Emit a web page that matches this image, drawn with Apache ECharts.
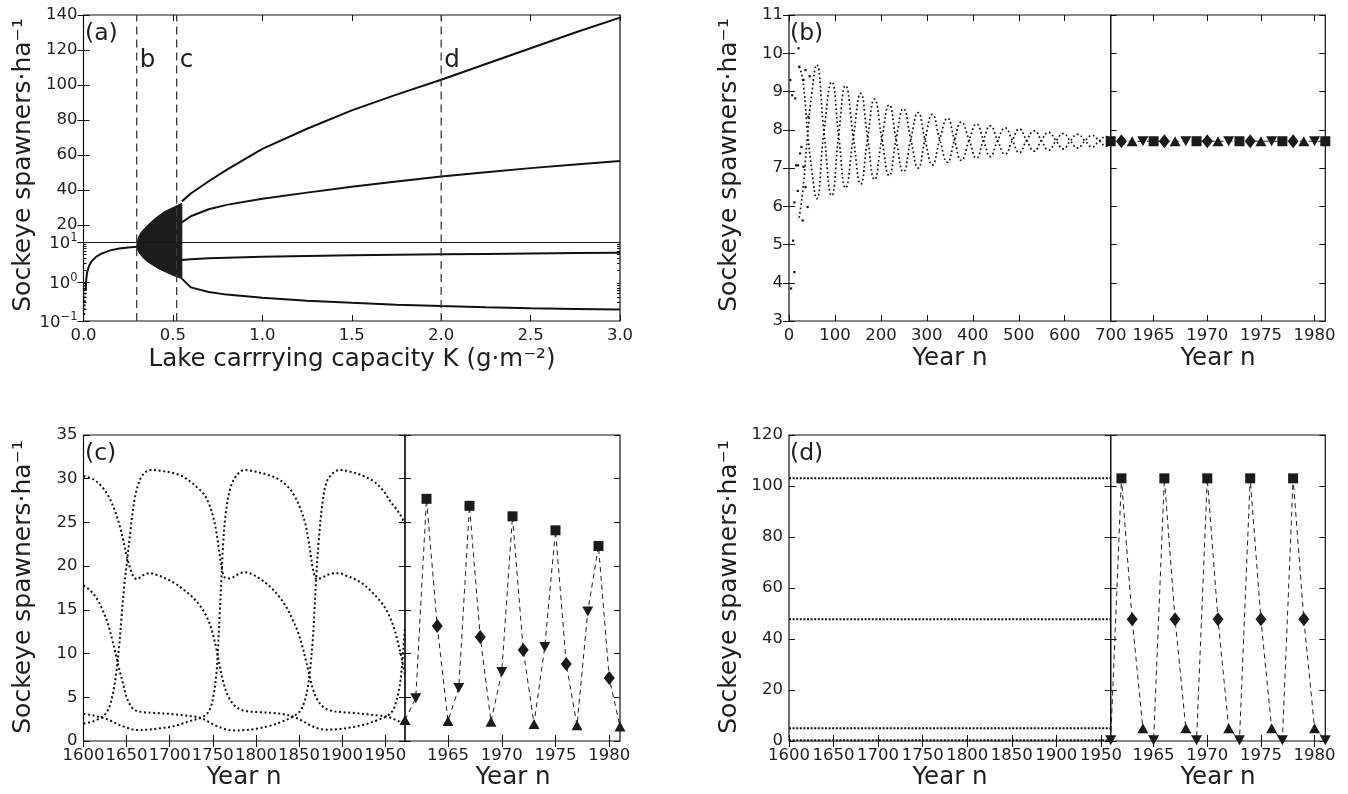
<!DOCTYPE html>
<html><head><meta charset="utf-8">
<script src="https://cdn.jsdelivr.net/npm/echarts@6.0.0/dist/echarts.min.js"></script>
<style>html,body{margin:0;padding:0;background:#fff;}#chart{width:1348px;height:794px;}</style>
</head><body><div id="chart"></div>
<script>
// ================= DATA =================
// ---- Panel (a): bifurcation diagram ----
const aXTicks = [0, 0.5, 1, 1.5, 2, 2.5, 3];
const aUpperTicks = [20, 40, 60, 80, 100, 120, 140];
const aLowerTicks = [0.1, 1, 10];
const aMinorTicks = [0.2,0.3,0.4,0.5,0.6,0.7,0.8,0.9,2,3,4,5,6,7,8,9];
const aDashK = [0.2975, 0.521, 2.0];
const aDashNames = ['b', 'c', 'd'];
const aDashLabelY = 113.7;
const aPreK = [0.012,0.015,0.02,0.03,0.045,0.07,0.1,0.15,0.2,0.25,0.2975];
const aPreS = [0.6,1.1,1.7,2.5,3.3,4.3,5.2,6.3,7.0,7.5,7.8];
const aEdgeK = [0.004,0.005,0.006,0.007,0.008,0.009,0.01,0.011];
const aEdgeS = [0.15,0.2,0.25,0.32,0.4,0.5,0.62,0.8];
const aBandK = [0.2975,0.30,0.31,0.32,0.34,0.36,0.39,0.42,0.45,0.48,0.51,0.54,0.55];
const aBandUpper = [7.8,10.5,13.5,15.5,18,20,22.8,25.3,27.5,29,30.5,31.8,32.5];
const aBandLower = [7.8,6.8,5.6,4.8,3.8,3.2,2.6,2.15,1.85,1.6,1.4,1.25,1.2];
const aBranchK = [0.55,0.6,0.7,0.8,1.0,1.25,1.5,1.75,2.0,2.25,2.5,2.75,3.0];
const aBranch1 = [33.5,38,45,51.5,63.5,75,85.5,94.5,103,112,121,130,138.5];
const aBranch2 = [21.5,25,29,31.5,35,38.5,41.8,44.8,47.7,50.2,52.5,54.6,56.6];
const aBranch3 = [3.6,3.75,3.95,4.1,4.35,4.55,4.72,4.87,5.0,5.12,5.25,5.38,5.5];
const aBranch4 = [1.2,0.72,0.55,0.47,0.39,0.33,0.29,0.26,0.24,0.225,0.212,0.203,0.195];

// ---- Panel (b) ----
const bLeftTicks = [0,100,200,300,400,500,600,700];
const bRightTicks = [1965,1970,1975,1980];
const bYTicks = [3,4,5,6,7,8,9,10,11];
const bExtYears = [60,93,123,156,186,218,249,281,312,345,375,408,438,470,501,534,565,597,628,660,691];
const bUpper = [9.7,9.25,9.15,8.95,8.8,8.65,8.55,8.45,8.4,8.3,8.2,8.15,8.1,8.05,8.02,7.97,7.93,7.9,7.88,7.85,7.82];
const bLower = [6.2,6.28,6.48,6.58,6.7,6.8,6.9,7.0,7.08,7.15,7.2,7.26,7.3,7.36,7.4,7.44,7.47,7.5,7.52,7.55,7.57];
const bCrossYears = [76,108,140,171,202,233,265,296,328,360,392,423,454,486,517,549,581,612,644,675];
const bCrossVals = [7.95,7.85,7.8,7.78,7.76,7.75,7.75,7.74,7.74,7.73,7.73,7.73,7.72,7.72,7.72,7.72,7.71,7.71,7.71,7.71];
const bStartP = [[22,5.7],[30,6.4],[40,7.8],[50,9.0]];
const bStartQ = [[22,9.65],[30,9.3],[40,8.0],[50,6.9]];
const bEndP = [700,7.78];
const bEndQ = [700,7.62];
const bEarlyYears = [4.5,11.7,9,11.7,19,15.3,19.8,13.5,20.7,22.5,31.5,36,45,27,31.5,36,42,40.5,29.7,24.3,7,3];
const bEarlyVals = [3.85,4.28,5.1,6.1,6.4,7.07,7.07,8.82,10.13,9.65,9.3,9.56,9.4,7.55,7.03,6.5,8.34,5.98,5.63,7.38,8.9,9.3];
const bRightYears = [1961,1962,1963,1964,1965,1966,1967,1968,1969,1970,1971,1972,1973,1974,1975,1976,1977,1978,1979,1980,1981];
const bRightVals = [7.7,7.7,7.7,7.7,7.7,7.7,7.7,7.7,7.7,7.7,7.7,7.7,7.7,7.7,7.7,7.7,7.7,7.7,7.7,7.7,7.7];
const bRightMarks = ['sq','di','tu','td','sq','di','tu','td','sq','di','tu','td','sq','di','tu','td','sq','di','tu','td','sq'];

// ---- Panel (c) ----
const cLeftTicks = [1600,1650,1700,1750,1800,1850,1900,1950];
const cYTicks = [0,5,10,15,20,25,30,35];
const cCurveA = [[1600,30.3],[1612,29.9],[1622,29.0],[1630,27.8],[1637,26.2],[1642,24.6],[1646,23.0],[1650,21.2],[1654,19.8],[1658,18.8],[1662,18.5],[1668,18.9],[1676,19.2],[1685,19.0],[1695,18.6],[1705,18.1],[1715,17.4],[1725,16.6],[1735,15.5],[1743,14.2],[1749,12.6],[1754,10.6],[1758,8.6],[1762,6.8],[1767,5.3],[1773,4.3],[1780,3.7],[1790,3.4],[1805,3.3],[1820,3.2],[1833,3.05],[1843,2.8],[1852,2.4],[1862,1.85],[1872,1.45],[1882,1.3],[1895,1.35],[1910,1.55],[1925,1.85],[1940,2.35],[1952,2.85],[1959,3.5],[1963,4.6],[1966,5.8],[1969,8.0],[1971,10.5],[1973,13.0]];
const cCurveB = [[1600,17.8],[1608,17.2],[1616,16.2],[1622,15.0],[1628,13.5],[1633,11.7],[1638,9.7],[1642,8.0],[1646,6.5],[1650,5.0],[1655,4.0],[1660,3.5],[1670,3.3],[1685,3.2],[1700,3.1],[1715,2.95],[1728,2.8],[1737,2.6],[1745,2.2],[1755,1.7],[1765,1.35],[1775,1.2],[1787,1.25],[1800,1.4],[1815,1.7],[1830,2.2],[1843,2.8],[1851,3.4],[1856,4.4],[1860,6.0],[1863,8.3],[1866,11.5],[1868,15.0],[1870,18.8],[1873,23.0],[1877,27.0],[1882,29.6],[1890,30.7],[1898,31.0],[1910,30.8],[1925,30.3],[1938,29.6],[1948,28.6],[1956,27.4],[1963,26.5],[1968,25.8],[1973,24.8]];
const cCurveC = [[1600,3.1],[1608,3.0],[1616,2.8],[1624,2.6],[1632,2.3],[1640,1.9],[1648,1.6],[1656,1.35],[1665,1.25],[1675,1.3],[1688,1.45],[1700,1.6],[1712,1.9],[1724,2.3],[1737,2.7],[1744,3.2],[1748,4.0],[1751,5.3],[1754,7.5],[1756,10.5],[1758,14.5],[1760,18.5],[1762,22.5],[1765,26.0],[1770,28.8],[1777,30.3],[1787,31.0],[1800,30.8],[1812,30.5],[1825,30.0],[1836,29.2],[1845,28.0],[1852,26.5],[1857,25.0],[1861,23.0],[1864,21.0],[1867,19.3],[1871,18.5],[1877,18.7],[1886,19.1],[1896,19.2],[1905,18.9],[1915,18.5],[1925,17.9],[1935,17.0],[1945,15.9],[1953,14.7],[1960,13.0],[1965,11.2],[1969,9.5],[1973,7.5]];
const cCurveD = [[1600,2.0],[1608,2.15],[1616,2.45],[1622,2.8],[1627,3.3],[1631,4.2],[1635,5.9],[1638,7.8],[1641,10.5],[1644,14.0],[1647,17.5],[1651,21.0],[1655,24.5],[1659,27.5],[1664,29.5],[1670,30.6],[1678,31.0],[1690,30.9],[1702,30.7],[1712,30.4],[1722,29.8],[1732,29.0],[1740,28.2],[1746,27.0],[1750,25.8],[1754,24.0],[1757,22.0],[1760,20.0],[1764,18.7],[1770,18.6],[1778,19.0],[1787,19.3],[1797,19.0],[1807,18.4],[1817,17.6],[1827,16.5],[1836,15.2],[1843,13.8],[1849,12.4],[1854,10.8],[1858,9.2],[1862,7.6],[1866,6.0],[1871,4.8],[1877,4.0],[1886,3.5],[1900,3.3],[1915,3.2],[1930,3.05],[1942,2.9],[1952,2.8],[1960,2.5],[1967,2.2],[1973,1.95]];
const cRightYears = [1961,1962,1963,1964,1965,1966,1967,1968,1969,1970,1971,1972,1973,1974,1975,1976,1977,1978,1979,1980,1981];
const cRightVals = [2.4,4.9,27.7,13.15,2.3,6.05,26.9,11.9,2.2,7.9,25.7,10.4,1.95,10.75,24.1,8.8,1.8,14.8,22.3,7.2,1.65];
const cRightMarks = ['tu','td','sq','di','tu','td','sq','di','tu','td','sq','di','tu','td','sq','di','tu','td','sq','di','tu'];

// ---- Panel (d) ----
const dLeftTicks = [1600,1650,1700,1750,1800,1850,1900,1950];
const dYTicks = [0,20,40,60,80,100,120];
const dLeftYears = [1600, 1961];
const dLevels = [103, 47.7, 5.0, 0.3];
const dRightYears = [1961,1962,1963,1964,1965,1966,1967,1968,1969,1970,1971,1972,1973,1974,1975,1976,1977,1978,1979,1980,1981];
const dRightVals = [0.3,103,47.7,5.0,0.3,103,47.7,5.0,0.3,103,47.7,5.0,0.3,103,47.7,5.0,0.3,103,47.7,5.0,0.3];
const dRightMarks = ['td','sq','di','tu','td','sq','di','tu','td','sq','di','tu','td','sq','di','tu','td','sq','di','tu','td'];

// ================= BUILD =================
const FONT = 'DejaVu Sans';
const INK = '#111';
const TXT = '#1e1e1e';
const TICKFS = 16.5;
const NAMEFS = 24.5;
const grids = [], xAxis = [], yAxis = [], series = [];
const PX = {}, PY = {};

function addGrid(name, l, t, w, h) {
  grids.push({left: l, top: t, width: w, height: h, show: true, borderColor: INK, borderWidth: 1.2,
    backgroundColor: 'rgba(0,0,0,0)', containLabel: false, outerBoundsMode: 'none'});
  return grids.length - 1;
}
const supRich = {
  b: {fontFamily: FONT, fontSize: TICKFS, color: TXT, lineHeight: 20, verticalAlign: 'bottom'},
  s: {fontFamily: FONT, fontSize: 11.5, color: TXT, lineHeight: 20, verticalAlign: 'top'}
};
function mkAxis(gi, pos, type, min, max, ticks, labels, fmt, len) {
  const a = {type: type, gridIndex: gi, position: pos, min: min, max: max, offset: 0,
    axisLine: {show: false}, splitLine: {show: false}, minorTick: {show: false}, splitArea: {show: false},
    axisTick: {show: ticks.length > 0, inside: true, length: len || 6, lineStyle: {color: INK, width: 1}, customValues: ticks},
    axisLabel: labels ? {show: true, customValues: labels, formatter: fmt || (v => String(v)), color: TXT,
      fontFamily: FONT, fontSize: TICKFS, margin: 6, rich: supRich, hideOverlap: false} : {show: false},
    axisPointer: {show: false}, silent: true};
  if (type === 'log') a.logBase = 10;
  return a;
}
function panel(name, gi, xc, yc) {
  xAxis.push(mkAxis(gi, 'bottom', xc.type || 'value', xc.min, xc.max, xc.bottomTicks, xc.labels, xc.fmt));
  PX[name] = xAxis.length - 1;
  xAxis.push(mkAxis(gi, 'top', xc.type || 'value', xc.min, xc.max, xc.topTicks, null));
  yAxis.push(mkAxis(gi, 'left', yc.type || 'value', yc.min, yc.max, yc.ticks, yc.labels, yc.fmt));
  PY[name] = yAxis.length - 1;
  yAxis.push(mkAxis(gi, 'right', yc.type || 'value', yc.min, yc.max, yc.ticks, null));
  if (yc.minor) {
    yAxis.push(mkAxis(gi, 'left', yc.type, yc.min, yc.max, yc.minor, null, null, 3));
    yAxis.push(mkAxis(gi, 'right', yc.type, yc.min, yc.max, yc.minor, null, null, 3));
  }
}
const logFmt = v => {
  const e = Math.round(Math.log10(v));
  return '{b|10}{s|' + (e < 0 ? '\u2212' : '') + Math.abs(e) + '}';
};

const gAU = addGrid('aU', 83.5, 15, 536.5, 227.5);
const gAL = addGrid('aL', 83.5, 242.5, 536.5, 78.5);
const gBL = addGrid('bL', 789, 15, 321.7, 306);
const gBR = addGrid('bR', 1110.7, 15, 214.6, 306);
const gCL = addGrid('cL', 83.5, 435, 321.5, 306);
const gCR = addGrid('cR', 405, 435, 215, 306);
const gDL = addGrid('dL', 789, 435, 321.7, 306);
const gDR = addGrid('dR', 1110.7, 435, 214.6, 306);

panel('aU', gAU, {min: 0, max: 3, bottomTicks: [], topTicks: aXTicks}, {min: 10, max: 140, ticks: aUpperTicks, labels: aUpperTicks});
panel('aL', gAL, {min: 0, max: 3, bottomTicks: aXTicks, topTicks: [], labels: aXTicks, fmt: v => v.toFixed(1)},
  {type: 'log', min: 0.1, max: 10, ticks: aLowerTicks, labels: aLowerTicks, fmt: logFmt, minor: aMinorTicks});
panel('bL', gBL, {min: 0, max: 700, bottomTicks: bLeftTicks, topTicks: bLeftTicks, labels: bLeftTicks}, {min: 3, max: 11, ticks: bYTicks, labels: bYTicks});
panel('bR', gBR, {min: 1961, max: 1981, bottomTicks: bRightTicks, topTicks: bRightTicks, labels: bRightTicks}, {min: 3, max: 11, ticks: bYTicks});
panel('cL', gCL, {min: 1600, max: 1973, bottomTicks: cLeftTicks, topTicks: cLeftTicks, labels: cLeftTicks}, {min: 0, max: 35, ticks: cYTicks, labels: cYTicks});
panel('cR', gCR, {min: 1961, max: 1981, bottomTicks: bRightTicks, topTicks: bRightTicks, labels: bRightTicks}, {min: 0, max: 35, ticks: cYTicks});
panel('dL', gDL, {min: 1600, max: 1961, bottomTicks: dLeftTicks, topTicks: dLeftTicks, labels: dLeftTicks}, {min: 0, max: 120, ticks: dYTicks, labels: dYTicks});
panel('dR', gDR, {min: 1961, max: 1981, bottomTicks: bRightTicks, topTicks: bRightTicks, labels: bRightTicks}, {min: 0, max: 120, ticks: dYTicks});

function addLine(p, data, style, extra) {
  series.push(Object.assign({type: 'line', xAxisIndex: PX[p], yAxisIndex: PY[p], data: data, symbol: 'none',
    silent: true, animation: false, clip: true, lineStyle: style, z: 3}, extra || {}));
}
function addDots(p, data, size) {
  series.push({type: 'scatter', xAxisIndex: PX[p], yAxisIndex: PY[p], data: data, symbol: 'rect',
    symbolSize: size, itemStyle: {color: INK, opacity: 1}, silent: true, animation: false, clip: true, z: 3});
}
const zip = (xs, ys) => xs.map((x, i) => [x, ys[i]]);
const solid = {color: INK, width: 2};
const dashV = {color: '#3a3a3a', width: 1.3, type: [8, 5]};
const dotted = {color: INK, width: 2, type: [2, 2.6], cap: 'butt'};

// ---- (a) ----
function band(p) {
  series.push({type: 'custom', xAxisIndex: PX[p], yAxisIndex: PY[p], clip: true, silent: true, animation: false, z: 2,
    data: [[aBandK[0], aBandUpper[0]]],
    renderItem: function (params, api) {
      const pts = [];
      for (let i = 0; i < aBandK.length; i++) pts.push(api.coord([aBandK[i], aBandUpper[i]]));
      for (let i = aBandK.length - 1; i >= 0; i--) pts.push(api.coord([aBandK[i], aBandLower[i]]));
      const cs = params.coordSys;
      return {type: 'group', clipPath: {type: 'rect', shape: {x: cs.x, y: cs.y, width: cs.width, height: cs.height}},
        children: [{type: 'polygon', shape: {points: pts}, style: {fill: '#1c1c1c', stroke: '#1c1c1c', lineWidth: 1}}]};
    }});
}
band('aU'); band('aL');
addLine('aU', zip(aBranchK, aBranch1), solid);
addLine('aU', zip(aBranchK, aBranch2), solid);
addLine('aL', zip(aBranchK, aBranch3), solid);
addLine('aL', zip(aBranchK, aBranch4), solid);
addLine('aL', zip(aPreK, aPreS), solid);
addDots('aL', zip(aEdgeK, aEdgeS), 2);
aDashK.forEach(k => {
  addLine('aU', [[k, 10], [k, 140]], dashV, {z: 4});
  addLine('aL', [[k, 0.1], [k, 10]], dashV, {z: 4});
});
series.push({type: 'scatter', xAxisIndex: PX.aU, yAxisIndex: PY.aU, symbolSize: 0, silent: true, animation: false,
  itemStyle: {opacity: 1},
  data: aDashK.map((k, i) => ({value: [k, aDashLabelY], name: aDashNames[i]})),
  label: {show: true, position: 'right', distance: 3, formatter: '{b}', fontFamily: FONT, fontSize: NAMEFS,
    color: TXT, opacity: 1, textBorderWidth: 0}});

// ---- (b) ----
const bP = bStartP.slice(), bQ = bStartQ.slice();
bExtYears.forEach((yr, i) => {
  bP.push([yr, i % 2 === 0 ? bUpper[i] : bLower[i]]);
  bQ.push([yr, i % 2 === 0 ? bLower[i] : bUpper[i]]);
  if (i < bCrossYears.length) { bP.push([bCrossYears[i], bCrossVals[i]]); bQ.push([bCrossYears[i], bCrossVals[i]]); }
});
bP.push(bEndP); bQ.push(bEndQ);
const dottedB = {color: INK, width: 1.7, type: [1.7, 2.6], cap: 'butt'};
addLine('bL', bP, dottedB, {smooth: 0.5});
addLine('bL', bQ, dottedB, {smooth: 0.5});
addDots('bL', zip(bEarlyYears, bEarlyVals), 2.2);

const MK = {
  sq: {symbol: 'rect', size: 10, rot: 0},
  di: {symbol: 'diamond', size: [11, 14], rot: 0},
  tu: {symbol: 'triangle', size: [11, 10], rot: 0},
  td: {symbol: 'triangle', size: [11, 10], rot: 180}
};
function markerPanel(p, years, vals, marks) {
  addLine(p, zip(years, vals), {color: '#222', width: 1, type: [5, 4]}, {z: 3});
  Object.keys(MK).forEach(k => {
    const d = [];
    years.forEach((y, i) => { if (marks[i] === k) d.push([y, vals[i]]); });
    series.push({type: 'scatter', xAxisIndex: PX[p], yAxisIndex: PY[p], data: d, symbol: MK[k].symbol,
      symbolSize: MK[k].size, symbolRotate: MK[k].rot, itemStyle: {color: '#1a1a1a', opacity: 1}, silent: true,
      animation: false, clip: true, z: 5});
  });
}
markerPanel('bR', bRightYears, bRightVals, bRightMarks);

// ---- (c) ----
[cCurveA, cCurveB, cCurveC, cCurveD].forEach(c => addLine('cL', c, dotted, {smooth: 0.35}));
markerPanel('cR', cRightYears, cRightVals, cRightMarks);

// ---- (d) ----
dLevels.forEach(v => addLine('dL', dLeftYears.map(y => [y, v]), {color: INK, width: 2, type: [2, 1.6], cap: 'butt'}));
markerPanel('dR', dRightYears, dRightVals, dRightMarks);

// ---- texts ----
function txt(x, y, s, size, align, rot) {
  return {type: 'text', x: x, y: y, rotation: rot || 0, silent: true, z: 10,
    style: {text: s, font: size + 'px "DejaVu Sans"', fill: TXT, align: align || 'center', textAlign: align || 'center',
      verticalAlign: 'middle', textVerticalAlign: 'middle'}};
}
const yName = 'Sockeye spawners\u00b7ha\u207b\u00b9';
const graphics = [
  txt(85, 34, '(a)', 23.5, 'left'), txt(790, 34, '(b)', 23.5, 'left'),
  txt(85, 454, '(c)', 23.5, 'left'), txt(790, 454, '(d)', 23.5, 'left'),
  txt(352, 360, 'Lake carrrying capacity K (g\u00b7m\u207b\u00b2)', NAMEFS),
  txt(950, 359, 'Year n', NAMEFS), txt(1218, 359, 'Year n', NAMEFS),
  txt(244, 778, 'Year n', NAMEFS), txt(513, 778, 'Year n', NAMEFS),
  txt(950, 778, 'Year n', NAMEFS), txt(1218, 778, 'Year n', NAMEFS),
  txt(23, 165, yName, 25, 'center', Math.PI / 2), txt(729, 165, yName, 25, 'center', Math.PI / 2),
  txt(23, 587, yName, 25, 'center', Math.PI / 2), txt(729, 587, yName, 25, 'center', Math.PI / 2)
];

const chart = echarts.init(document.getElementById('chart'), null, {renderer: 'canvas'});
chart.setOption({
  animation: false, backgroundColor: '#fff',
  grid: grids, xAxis: xAxis, yAxis: yAxis, series: series, graphic: graphics
});
</script></body></html>
